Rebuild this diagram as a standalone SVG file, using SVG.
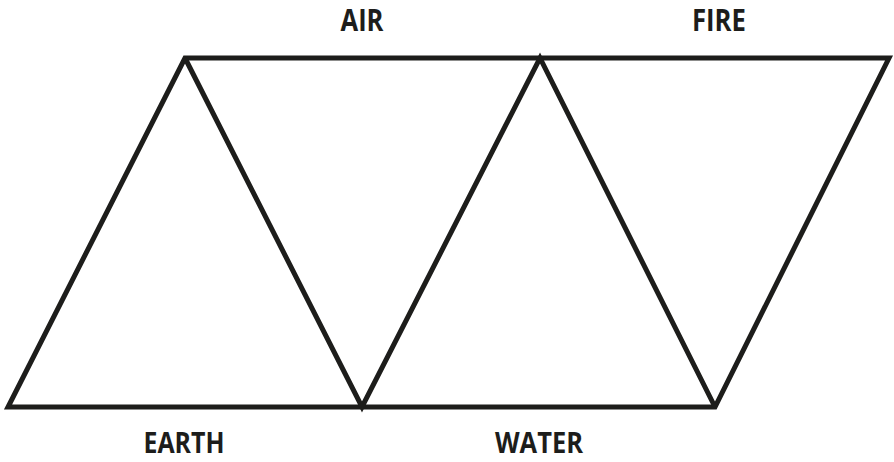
<svg xmlns="http://www.w3.org/2000/svg" width="894" height="462" viewBox="0 0 894 462">
<style>
.l{fill:none;stroke:#1d1d1b;stroke-width:5;stroke-linejoin:miter;stroke-linecap:butt}
.t{font-family:"Open Sans","DejaVu Sans",sans-serif;font-weight:700;font-size:30px;fill:#1d1d1b;text-anchor:middle}
.b{font-size:28px}
</style>
<rect width="894" height="462" fill="#fff"/>
<g id="connectors">
<polygon class="l" points="8,407 715,407 889,58 185,58"/>
<polyline class="l" points="185,58 362,407 540,58 715,407"/>
</g>
<g id="air"><text class="t" x="362" y="31" textLength="43" lengthAdjust="spacingAndGlyphs">AIR</text></g>
<g id="fire"><text class="t" x="719" y="31" textLength="54" lengthAdjust="spacingAndGlyphs">FIRE</text></g>
<g id="earth"><text class="t b" x="184" y="453" textLength="81" lengthAdjust="spacingAndGlyphs">EARTH</text></g>
<g id="water"><text class="t b" x="539" y="453" textLength="88" lengthAdjust="spacingAndGlyphs">WATER</text></g>
</svg>
